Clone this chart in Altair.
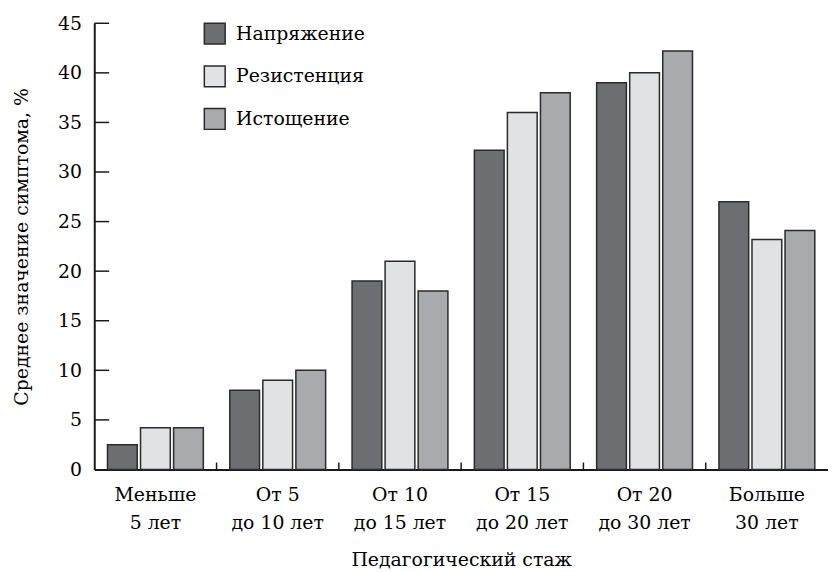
import altair as alt
import pandas as pd

categories = ["Меньше\n5 лет", "От 5\nдо 10 лет", "От 10\nдо 15 лет",
              "От 15\nдо 20 лет", "От 20\nдо 30 лет", "Больше\n30 лет"]
series = ["Напряжение", "Резистенция", "Истощение"]
napryazhenie = [2.5, 8, 19, 32.2, 39, 27]
rezistentsiya = [4.2, 9, 21, 36, 40, 23.2]
istoshchenie = [4.2, 10, 18, 38, 42.2, 24.1]
colors = ["#6d6e72", "#e1e2e4", "#a9aaae"]
y_ticks = [5, 10, 15, 20, 25, 30, 35, 40, 45]

rows = []
for s, vals in zip(series, [napryazhenie, rezistentsiya, istoshchenie]):
    for c, v in zip(categories, vals):
        rows.append({"cat": c, "series": s, "value": v})
df = pd.DataFrame(rows)
df_yt = pd.DataFrame({"v": y_ticks})
df_xt = pd.DataFrame({"cat": categories[1:]})

FONT = "DejaVu Serif"
FS = 19
W, H = 740, 450

xscale = alt.Scale(domain=categories, paddingInner=0, paddingOuter=0)
yscale = alt.Scale(domain=[0, 45], nice=False)

bars = alt.Chart(df).mark_bar(stroke="#2a2a2a", strokeWidth=1.5).encode(
    x=alt.X("cat:N", sort=categories, scale=xscale,
            axis=alt.Axis(title="Педагогический стаж", labelAngle=0, ticks=False,
                          labelExpr="split(datum.label, '\\n')",
                          labelLineHeight=29, labelPadding=16, titlePadding=18)),
    xOffset=alt.XOffset("series:N", sort=series,
                        scale=alt.Scale(domain=series, paddingInner=0.1, paddingOuter=0.4)),
    y=alt.Y("value:Q", scale=yscale,
            axis=alt.Axis(title="Среднее значение симптома, %", values=y_ticks + [0],
                          ticks=False, labelPadding=13, titlePadding=26)),
    color=alt.Color("series:N", sort=series,
                    scale=alt.Scale(domain=series, range=colors),
                    legend=alt.Legend(title=None, orient="none", legendX=110, legendY=-1,
                                      symbolType="square", symbolSize=441,
                                      symbolStrokeColor="#2a2a2a", symbolStrokeWidth=1.5,
                                      symbolOpacity=1, labelFont=FONT, labelFontSize=FS,
                                      labelColor="black", labelOffset=10,
                                      rowPadding=16, padding=0)),
)

yt = alt.Chart(df_yt).mark_rule(color="#1a1a1a", strokeWidth=1.5).encode(
    y=alt.Y("v:Q", scale=yscale),
    x=alt.value(0), x2=alt.value(15),
)

xt = alt.Chart(df_xt).mark_rule(color="#1a1a1a", strokeWidth=1.5).encode(
    x=alt.X("cat:N", sort=categories, scale=xscale, bandPosition=0),
    y=alt.value(H - 7), y2=alt.value(H),
)

chart = alt.layer(bars, yt, xt).properties(
    width=W, height=H,
    padding={"left": 4, "top": 4, "right": 0, "bottom": 0},
).configure_view(stroke=None).configure_axis(
    labelFont=FONT, labelFontSize=FS, labelColor="black",
    titleFont=FONT, titleFontSize=FS, titleColor="black", titleFontWeight="normal",
    domainColor="#1a1a1a", domainWidth=2, grid=False,
)

chart.save("out.html", embed_options={"renderer": "svg", "actions": False})
